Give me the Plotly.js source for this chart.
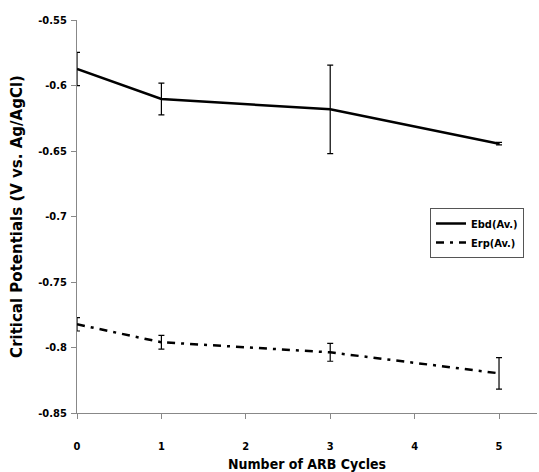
<!DOCTYPE html>
<html>
<head>
<meta charset="utf-8">
<script src="https://cdn.plot.ly/plotly-3.0.1.min.js"></script>
<style>html,body{margin:0;padding:0;background:#fff;}#chart{width:539px;height:472px;}</style>
</head>
<body>
<div id="chart"></div>
<script>
var cycles = [0, 1, 3, 5];
var ebd = [-0.5874, -0.6103, -0.6182, -0.6444];
var ebdErr = [0.0127, 0.0121, 0.0338, 0.0010];
var erp = [-0.7823, -0.7960, -0.8037, -0.8197];
var erpErr = [0.0051, 0.0053, 0.0068, 0.0120];
var xTicks = [0, 1, 2, 3, 4, 5];
var yTicks = [-0.85, -0.8, -0.75, -0.7, -0.65, -0.6, -0.55];
var yTickText = ['-0.85', '-0.8', '-0.75', '-0.7', '-0.65', '-0.6', '-0.55'];

var tickFont = {family: 'DejaVu Sans Condensed', size: 11, color: '#000', weight: 'bold'};

var traces = [
  {
    x: cycles, y: ebd, name: 'Ebd(Av.)', type: 'scatter', mode: 'lines',
    line: {color: '#000', width: 2.5},
    error_y: {type: 'data', array: ebdErr, visible: true, color: '#000', thickness: 1.2, width: 3}
  },
  {
    x: cycles, y: erp, name: 'Erp(Av.)', type: 'scatter', mode: 'lines',
    line: {color: '#000', width: 2.5, dash: '8px,6px,3px,6px'},
    error_y: {type: 'data', array: erpErr, visible: true, color: '#000', thickness: 1.2, width: 3}
  }
];

var layout = {
  width: 539, height: 472,
  margin: {l: 77, r: 2, t: 20, b: 59},
  paper_bgcolor: '#fff', plot_bgcolor: '#fff',
  showlegend: true,
  legend: {
    bgcolor: '#fff', bordercolor: '#555', borderwidth: 1,
    font: {family: 'DejaVu Sans Condensed', size: 11, color: '#000', weight: 'bold'},
    tracegroupgap: 4
  },
  xaxis: {
    range: [0, 5.45], tickvals: xTicks, ticktext: xTicks.map(String),
    showgrid: false, zeroline: false, showline: true, linecolor: '#888', linewidth: 1,
    ticks: 'outside', ticklen: 5, tickcolor: '#888', ticklabelstandoff: 18,
    tickfont: tickFont,
    title: {text: 'Number of ARB Cycles', font: {family: 'DejaVu Sans Condensed', size: 14, color: '#000', weight: 'bold'}, standoff: 8}
  },
  yaxis: {
    range: [-0.85, -0.55], tickvals: yTicks, ticktext: yTickText,
    showgrid: false, zeroline: false, showline: true, linecolor: '#888', linewidth: 1,
    ticks: 'outside', ticklen: 5, tickcolor: '#888', ticklabelstandoff: 2,
    tickfont: tickFont,
    title: {text: 'Critical Potentials (V vs. Ag/AgCl)', font: {family: 'DejaVu Sans', size: 15, color: '#000', weight: 'bold'}, standoff: 12}
  }
};
var pw = 539 - 77 - 2, ph = 472 - 20 - 59;
layout.legend.x = (430 - 77) / pw;
layout.legend.y = 1 - (208 - 20) / ph;
layout.legend.xanchor = 'left';
layout.legend.yanchor = 'top';

Plotly.newPlot('chart', traces, layout, {displayModeBar: false, staticPlot: true});
</script>
</body>
</html>
